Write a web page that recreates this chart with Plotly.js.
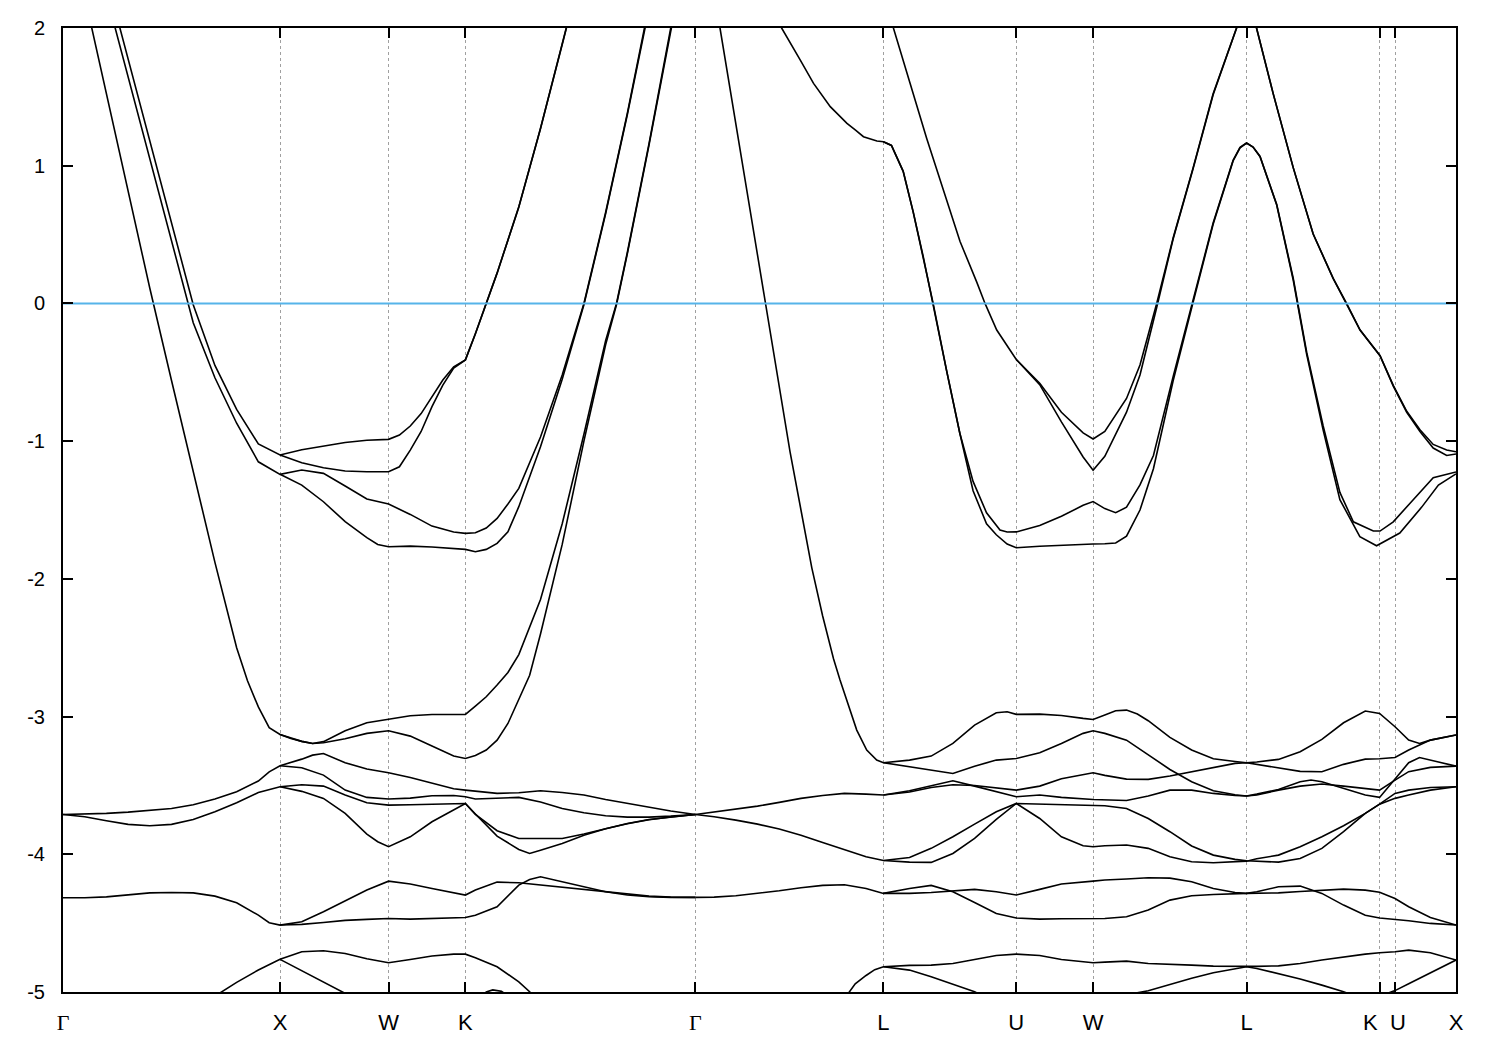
<!DOCTYPE html>
<html><head><meta charset="utf-8">
<script src="https://cdn.plot.ly/plotly-3.0.1.min.js"></script>
<style>html,body{margin:0;padding:0;background:#fff}</style>
</head><body>
<div id="chart" style="width:1500px;height:1050px"></div>
<script>
// k-path positions (2pi/a units) of high-symmetry points and their labels
const kTicks = [0, 1, 1.5, 1.854, 2.914, 3.780, 4.392, 4.746, 5.453, 6.066, 6.137, 6.418];
const kLabels = ['Γ','X','W','K','Γ','L','U','W','L','K','U','X'];
const eTicks = [-5, -4, -3, -2, -1, 0, 1, 2];
const eLabels = ['-5', '-4', '-3', '-2', '-1', '0', '1', '2'];
const fermiLevel = 0;
const energyRange = [-5, 2];

// Bands: [k, E(eV)]
const bandAH = [[0.1,2.23],[0.2,1.52],[0.3,0.82],[0.4,0.11],[0.5,-0.56],[0.6,-1.22],[0.7,-1.88],[0.8,-2.5],[0.85,-2.74],[0.9,-2.93],[0.95,-3.08],[1.0,-3.13],[1.05,-3.16],[1.1,-3.18],[1.15,-3.195],[1.2,-3.182],[1.3,-3.103],[1.4,-3.045],[1.5,-3.021],[1.6,-2.994],[1.7,-2.985],[1.8,-2.982],[1.854,-2.984],[1.9,-2.924],[1.95,-2.856],[2.0,-2.771],[2.05,-2.68],[2.1,-2.55],[2.2,-2.15],[2.3,-1.6],[2.4,-0.95],[2.5,-0.27],[2.55,0.0],[2.6,0.37],[2.7,1.16],[2.8,2.0],[2.9,2.8]];
const bandI = [[1.0,-3.13],[1.1,-3.18],[1.15,-3.195],[1.2,-3.19],[1.3,-3.161],[1.4,-3.122],[1.5,-3.103],[1.6,-3.142],[1.7,-3.214],[1.8,-3.287],[1.854,-3.304],[1.9,-3.282],[1.95,-3.243],[2.0,-3.171],[2.05,-3.05],[2.1,-2.88],[2.15,-2.7],[2.2,-2.4],[2.3,-1.75],[2.4,-1.0],[2.5,-0.3],[2.55,-0.01],[2.6,0.36],[2.7,1.15],[2.8,2.0],[2.9,2.8]];
const bandBF = [[0.2,2.24],[0.3,1.64],[0.4,1.04],[0.5,0.45],[0.6,-0.14],[0.7,-0.54],[0.8,-0.87],[0.9,-1.15],[1.0,-1.241],[1.1,-1.21],[1.2,-1.234],[1.3,-1.326],[1.4,-1.42],[1.5,-1.457],[1.6,-1.532],[1.7,-1.617],[1.8,-1.66],[1.854,-1.67],[1.9,-1.665],[1.95,-1.631],[2.0,-1.561],[2.05,-1.457],[2.1,-1.343],[2.2,-0.97],[2.3,-0.52],[2.4,0.0],[2.5,0.66],[2.6,1.38],[2.7,2.15],[2.8,2.95]];
const bandG = [[1.0,-1.241],[1.1,-1.319],[1.2,-1.44],[1.3,-1.585],[1.4,-1.701],[1.45,-1.75],[1.5,-1.767],[1.6,-1.762],[1.7,-1.769],[1.8,-1.779],[1.854,-1.786],[1.9,-1.803],[1.95,-1.786],[2.0,-1.742],[2.05,-1.658],[2.1,-1.476],[2.2,-1.04],[2.3,-0.55],[2.4,-0.01],[2.5,0.65],[2.6,1.37],[2.7,2.14],[2.8,2.95]];
const bandCD = [[0.2,2.37],[0.3,1.78],[0.4,1.18],[0.5,0.58],[0.6,-0.01],[0.7,-0.45],[0.8,-0.77],[0.9,-1.02],[1.0,-1.10],[1.1,-1.062],[1.2,-1.036],[1.3,-1.01],[1.4,-0.994],[1.5,-0.987],[1.55,-0.956],[1.6,-0.89],[1.65,-0.80],[1.7,-0.68],[1.75,-0.556],[1.8,-0.46],[1.854,-0.41],[1.9,-0.22],[2.0,0.22],[2.1,0.70],[2.2,1.27],[2.3,1.88],[2.4,2.5]];
const bandE = [[1.0,-1.10],[1.1,-1.157],[1.2,-1.193],[1.3,-1.217],[1.4,-1.222],[1.5,-1.222],[1.55,-1.186],[1.6,-1.065],[1.65,-0.93],[1.7,-0.75],[1.75,-0.593],[1.8,-0.47],[1.854,-0.41],[1.9,-0.22],[2.0,0.22],[2.1,0.70],[2.2,1.27],[2.3,1.88],[2.4,2.5]];
const bandU1R1 = [[0,-3.711],[0.1,-3.708],[0.2,-3.703],[0.3,-3.694],[0.4,-3.681],[0.5,-3.667],[0.6,-3.64],[0.7,-3.599],[0.8,-3.546],[0.9,-3.468],[0.95,-3.401],[1.0,-3.357],[1.1,-3.309],[1.15,-3.28],[1.2,-3.268],[1.3,-3.335],[1.4,-3.381],[1.5,-3.408],[1.6,-3.442],[1.7,-3.485],[1.8,-3.524],[1.854,-3.534],[1.9,-3.541],[2.0,-3.558],[2.1,-3.553],[2.2,-3.539],[2.3,-3.551],[2.4,-3.57],[2.5,-3.602],[2.6,-3.631],[2.7,-3.66],[2.8,-3.686],[2.914,-3.711]];
const bandR2 = [[1.0,-3.357],[1.1,-3.372],[1.2,-3.425],[1.3,-3.534],[1.4,-3.587],[1.5,-3.599],[1.6,-3.592],[1.7,-3.575],[1.8,-3.573],[1.854,-3.582],[1.9,-3.599],[2.0,-3.594],[2.1,-3.587],[2.2,-3.621],[2.3,-3.667],[2.4,-3.698],[2.5,-3.72],[2.6,-3.73],[2.7,-3.73],[2.8,-3.723],[2.914,-3.711]];
const bandL1L2 = [[0,-3.711],[0.1,-3.727],[0.2,-3.756],[0.3,-3.783],[0.4,-3.793],[0.5,-3.783],[0.6,-3.747],[0.7,-3.691],[0.8,-3.626],[0.9,-3.551],[1.0,-3.51],[1.1,-3.495],[1.2,-3.505],[1.3,-3.57],[1.4,-3.626],[1.5,-3.643],[1.6,-3.64],[1.7,-3.636],[1.8,-3.633],[1.854,-3.631],[1.9,-3.711],[2.0,-3.829],[2.1,-3.885],[2.2,-3.887],[2.3,-3.885],[2.4,-3.853],[2.5,-3.812],[2.6,-3.776],[2.7,-3.747],[2.8,-3.728],[2.914,-3.711]];
const bandL3 = [[1.0,-3.51],[1.1,-3.543],[1.2,-3.594],[1.3,-3.703],[1.4,-3.853],[1.45,-3.909],[1.5,-3.945],[1.6,-3.873],[1.7,-3.764],[1.8,-3.679],[1.854,-3.631],[1.9,-3.707],[2.0,-3.868],[2.1,-3.965],[2.15,-3.994],[2.2,-3.97],[2.3,-3.921],[2.4,-3.861],[2.5,-3.815],[2.6,-3.778],[2.7,-3.749],[2.8,-3.729],[2.914,-3.711]];
const bandPS1 = [[0,-4.316],[0.1,-4.316],[0.2,-4.309],[0.3,-4.294],[0.4,-4.28],[0.5,-4.277],[0.6,-4.28],[0.7,-4.304],[0.8,-4.352],[0.9,-4.442],[0.95,-4.497],[1.0,-4.514],[1.1,-4.49],[1.2,-4.417],[1.3,-4.34],[1.4,-4.26],[1.5,-4.195],[1.6,-4.216],[1.7,-4.248],[1.8,-4.279],[1.854,-4.296],[1.9,-4.26],[2.0,-4.202],[2.1,-4.207],[2.2,-4.224],[2.3,-4.236],[2.4,-4.253],[2.5,-4.272],[2.6,-4.289],[2.7,-4.304],[2.8,-4.311],[2.914,-4.313]];
const bandS2 = [[1.0,-4.514],[1.1,-4.509],[1.2,-4.495],[1.3,-4.48],[1.4,-4.473],[1.5,-4.466],[1.6,-4.471],[1.7,-4.468],[1.8,-4.463],[1.854,-4.459],[1.9,-4.442],[2.0,-4.381],[2.1,-4.224],[2.15,-4.183],[2.2,-4.163],[2.3,-4.2],[2.4,-4.236],[2.5,-4.272],[2.6,-4.296],[2.7,-4.308],[2.8,-4.313],[2.914,-4.313]];
const bandQT1 = [[0.6,-5.3],[0.7,-5.03],[0.8,-4.93],[0.9,-4.84],[1.0,-4.763],[1.1,-4.708],[1.2,-4.701],[1.3,-4.72],[1.4,-4.759],[1.5,-4.788],[1.6,-4.764],[1.7,-4.739],[1.8,-4.725],[1.854,-4.725],[1.9,-4.751],[2.0,-4.817],[2.1,-4.926],[2.15,-4.998],[2.2,-5.1]];
const bandT2 = [[1.0,-4.763],[1.1,-4.846],[1.2,-4.926],[1.3,-5.01],[1.4,-5.15]];
const bandT3 = [[1.9,-5.08],[1.95,-5.0],[1.98,-4.985],[2.02,-4.995],[2.1,-5.08]];

const bandJX1 = [[2.914,2.75],[3.0,2.26],[3.027,2.0],[3.088,1.42],[3.15,0.84],[3.196,0.41],[3.239,0.0],[3.3,-0.58],[3.35,-1.08],[3.4,-1.5],[3.45,-1.92],[3.5,-2.27],[3.55,-2.58],[3.58,-2.735],[3.626,-2.953],[3.657,-3.098],[3.703,-3.243],[3.749,-3.316],[3.78,-3.335],[3.9,-3.316],[4.0,-3.287],[4.1,-3.195],[4.2,-3.062],[4.3,-2.972],[4.35,-2.965],[4.392,-2.984],[4.5,-2.982],[4.6,-2.992],[4.7,-3.013],[4.746,-3.021],[4.8,-2.989],[4.85,-2.958],[4.9,-2.953],[4.95,-2.982],[5.0,-3.03],[5.1,-3.151],[5.2,-3.243],[5.3,-3.306],[5.4,-3.326],[5.453,-3.335],[5.5,-3.33],[5.6,-3.311],[5.7,-3.255],[5.8,-3.166],[5.9,-3.045],[6.0,-2.96],[6.066,-2.977],[6.137,-3.074],[6.2,-3.171],[6.25,-3.195],[6.3,-3.171],[6.418,-3.134]];
const bandX2 = [[3.78,-3.335],[3.9,-3.364],[4.0,-3.393],[4.1,-3.413],[4.2,-3.36],[4.3,-3.316],[4.392,-3.304],[4.5,-3.263],[4.6,-3.195],[4.7,-3.122],[4.746,-3.103],[4.8,-3.122],[4.9,-3.171],[5.0,-3.28],[5.1,-3.384],[5.2,-3.473],[5.3,-3.539],[5.4,-3.568],[5.453,-3.577],[5.5,-3.57],[5.6,-3.534],[5.7,-3.505],[5.8,-3.49],[5.9,-3.505],[6.0,-3.522],[6.066,-3.534],[6.137,-3.461],[6.2,-3.4],[6.3,-3.369],[6.418,-3.36]];
const bandM1Y1 = [[2.914,-3.711],[3.0,-3.694],[3.1,-3.674],[3.2,-3.65],[3.3,-3.623],[3.4,-3.594],[3.5,-3.573],[3.6,-3.558],[3.7,-3.563],[3.78,-3.57],[3.9,-3.539],[4.0,-3.5],[4.1,-3.466],[4.2,-3.505],[4.3,-3.546],[4.392,-3.582],[4.5,-3.57],[4.6,-3.587],[4.746,-3.602],[4.8,-3.606],[4.9,-3.609],[5.0,-3.577],[5.1,-3.534],[5.2,-3.534],[5.3,-3.558],[5.4,-3.573],[5.453,-3.577],[5.5,-3.563],[5.6,-3.529],[5.7,-3.473],[5.75,-3.461],[5.8,-3.473],[5.9,-3.522],[6.0,-3.57],[6.066,-3.587],[6.137,-3.449],[6.2,-3.335],[6.25,-3.297],[6.3,-3.316],[6.418,-3.36]];
const bandY2 = [[3.78,-3.57],[3.9,-3.548],[4.0,-3.515],[4.1,-3.495],[4.2,-3.5],[4.3,-3.519],[4.392,-3.534],[4.5,-3.505],[4.6,-3.452],[4.746,-3.408],[4.8,-3.427],[4.9,-3.454],[5.0,-3.456],[5.1,-3.432],[5.2,-3.4],[5.3,-3.369],[5.4,-3.34],[5.453,-3.335],[5.5,-3.347],[5.6,-3.374],[5.7,-3.398],[5.8,-3.401],[5.9,-3.347],[6.0,-3.309],[6.066,-3.306],[6.137,-3.297],[6.2,-3.243],[6.3,-3.171],[6.418,-3.134]];
const bandM2Z1 = [[2.914,-3.711],[3.0,-3.727],[3.1,-3.752],[3.2,-3.781],[3.3,-3.817],[3.4,-3.861],[3.5,-3.914],[3.6,-3.965],[3.7,-4.018],[3.78,-4.045],[3.9,-4.057],[4.0,-4.059],[4.1,-3.994],[4.2,-3.885],[4.3,-3.747],[4.392,-3.631],[4.5,-3.636],[4.6,-3.643],[4.746,-3.645],[4.8,-3.648],[4.9,-3.667],[5.0,-3.74],[5.1,-3.836],[5.2,-3.94],[5.3,-4.006],[5.4,-4.037],[5.453,-4.047],[5.5,-4.05],[5.6,-4.057],[5.7,-4.03],[5.8,-3.957],[5.9,-3.836],[6.0,-3.703],[6.066,-3.636],[6.137,-3.558],[6.2,-3.534],[6.3,-3.515],[6.418,-3.51]];
const bandZ2 = [[3.78,-4.045],[3.9,-4.023],[4.0,-3.957],[4.1,-3.873],[4.2,-3.781],[4.3,-3.691],[4.392,-3.631],[4.5,-3.74],[4.6,-3.873],[4.7,-3.938],[4.746,-3.945],[4.8,-3.938],[4.9,-3.933],[5.0,-3.957],[5.1,-4.018],[5.2,-4.054],[5.3,-4.062],[5.4,-4.054],[5.453,-4.05],[5.5,-4.033],[5.6,-4.006],[5.7,-3.945],[5.8,-3.873],[5.9,-3.793],[6.0,-3.703],[6.066,-3.636],[6.137,-3.594],[6.2,-3.57],[6.3,-3.534],[6.418,-3.51]];
const bandNN1 = [[2.914,-4.313],[3.0,-4.311],[3.1,-4.301],[3.2,-4.284],[3.3,-4.265],[3.4,-4.243],[3.5,-4.226],[3.6,-4.221],[3.7,-4.248],[3.78,-4.284],[3.9,-4.248],[4.0,-4.226],[4.1,-4.272],[4.2,-4.35],[4.3,-4.43],[4.392,-4.463],[4.5,-4.471],[4.6,-4.468],[4.746,-4.463],[4.8,-4.466],[4.9,-4.454],[5.0,-4.405],[5.1,-4.333],[5.2,-4.301],[5.3,-4.292],[5.4,-4.287],[5.453,-4.284],[5.5,-4.272],[5.6,-4.236],[5.7,-4.231],[5.8,-4.284],[5.9,-4.369],[6.0,-4.442],[6.066,-4.463],[6.137,-4.473],[6.2,-4.483],[6.3,-4.502],[6.418,-4.514]];
const bandN2 = [[3.78,-4.284],[3.9,-4.284],[4.0,-4.277],[4.1,-4.265],[4.2,-4.255],[4.3,-4.272],[4.392,-4.296],[4.5,-4.255],[4.6,-4.216],[4.746,-4.195],[4.8,-4.187],[4.9,-4.18],[5.0,-4.17],[5.1,-4.173],[5.2,-4.2],[5.3,-4.248],[5.4,-4.277],[5.453,-4.284],[5.5,-4.284],[5.6,-4.28],[5.7,-4.27],[5.8,-4.26],[5.9,-4.253],[6.0,-4.26],[6.066,-4.275],[6.137,-4.321],[6.2,-4.381],[6.3,-4.459],[6.418,-4.514]];
const bandOO1 = [[3.6,-5.05],[3.65,-4.94],[3.7,-4.88],[3.74,-4.838],[3.78,-4.817],[3.9,-4.807],[4.0,-4.805],[4.1,-4.793],[4.2,-4.764],[4.3,-4.735],[4.392,-4.725],[4.5,-4.735],[4.6,-4.764],[4.746,-4.788],[4.8,-4.783],[4.9,-4.776],[5.0,-4.793],[5.1,-4.797],[5.2,-4.805],[5.3,-4.812],[5.453,-4.817],[5.5,-4.814],[5.6,-4.81],[5.7,-4.793],[5.8,-4.768],[5.9,-4.744],[6.0,-4.725],[6.066,-4.715],[6.137,-4.708],[6.2,-4.696],[6.3,-4.715],[6.418,-4.768]];
const bandO2 = [[3.78,-4.817],[3.9,-4.841],[4.0,-4.89],[4.1,-4.943],[4.2,-4.998],[4.3,-5.08]];
const bandO3 = [[4.8,-5.1],[4.9,-5.02],[5.0,-4.991],[5.1,-4.943],[5.2,-4.9],[5.3,-4.86],[5.4,-4.831],[5.453,-4.817],[5.5,-4.829],[5.6,-4.865],[5.7,-4.906],[5.8,-4.95],[5.9,-4.998],[6.0,-5.06]];
const bandO4 = [[6.066,-5.03],[6.137,-4.99],[6.2,-4.94],[6.3,-4.86],[6.418,-4.768]];

const bandK2W1 = [[3.2,2.35],[3.311,2.0],[3.397,1.767],[3.458,1.598],[3.535,1.429],[3.612,1.308],[3.65,1.26],[3.688,1.211],[3.75,1.18],[3.78,1.174],[3.817,1.147],[3.871,0.959],[3.917,0.665],[3.963,0.343],[4.009,0.0],[4.071,-0.488],[4.132,-0.943],[4.193,-1.292],[4.255,-1.52],[4.317,-1.645],[4.35,-1.66],[4.392,-1.659],[4.5,-1.613],[4.6,-1.546],[4.7,-1.466],[4.746,-1.439],[4.8,-1.49],[4.85,-1.52],[4.9,-1.48],[4.962,-1.318],[5.024,-1.104],[5.115,-0.53],[5.207,0.022],[5.299,0.584],[5.391,1.04],[5.423,1.134],[5.453,1.165],[5.483,1.136],[5.515,1.067],[5.592,0.718],[5.668,0.183],[5.73,-0.354],[5.806,-0.89],[5.883,-1.372],[5.945,-1.586],[6.037,-1.653],[6.068,-1.653],[6.129,-1.586],[6.221,-1.425],[6.313,-1.265],[6.418,-1.224]];
const bandW2 = [[3.78,1.174],[3.817,1.147],[3.871,0.959],[3.917,0.665],[3.963,0.343],[4.009,0.0],[4.071,-0.488],[4.132,-0.943],[4.193,-1.36],[4.255,-1.6],[4.3,-1.68],[4.35,-1.747],[4.392,-1.774],[4.5,-1.763],[4.6,-1.755],[4.746,-1.747],[4.8,-1.745],[4.85,-1.74],[4.9,-1.69],[4.962,-1.5],[5.024,-1.2],[5.115,-0.56],[5.207,0.01],[5.299,0.575],[5.391,1.035],[5.423,1.13],[5.453,1.165],[5.483,1.136],[5.515,1.067],[5.592,0.715],[5.668,0.17],[5.73,-0.37],[5.806,-0.92],[5.883,-1.425],[5.975,-1.693],[6.052,-1.76],[6.159,-1.667],[6.26,-1.479],[6.337,-1.319],[6.418,-1.238]];
const bandV1a = [[3.78,2.24],[3.825,2.0],[3.902,1.603],[3.979,1.2],[4.056,0.826],[4.133,0.45],[4.21,0.155],[4.248,0.0],[4.302,-0.193],[4.346,-0.3],[4.392,-0.407],[4.5,-0.58],[4.6,-0.79],[4.7,-0.94],[4.746,-0.984],[4.8,-0.93],[4.9,-0.69],[4.962,-0.447],[5.039,0.0],[5.115,0.477],[5.207,0.986],[5.299,1.522],[5.407,2.0],[5.453,2.3],[5.499,2.0],[5.576,1.522],[5.668,0.986],[5.76,0.504],[5.852,0.182],[5.914,0.0],[5.976,-0.193],[6.068,-0.38],[6.129,-0.595],[6.191,-0.783],[6.252,-0.917],[6.313,-1.024],[6.375,-1.064],[6.418,-1.077]];
const bandV1b = [[4.392,-0.407],[4.5,-0.59],[4.6,-0.86],[4.7,-1.115],[4.746,-1.211],[4.8,-1.11],[4.9,-0.79],[4.962,-0.52],[5.039,-0.03],[5.115,0.47],[5.207,0.98],[5.299,1.515],[5.407,2.0],[5.453,2.3],[5.499,2.0],[5.576,1.522],[5.668,0.986],[5.76,0.504],[5.852,0.182],[5.914,0.0],[5.976,-0.193],[6.068,-0.38],[6.129,-0.6],[6.191,-0.79],[6.252,-0.93],[6.313,-1.05],[6.375,-1.104],[6.418,-1.093]];

const bands = [bandAH, bandI, bandBF, bandG, bandCD, bandE, bandU1R1, bandR2, bandL1L2, bandL3,
  bandPS1, bandS2, bandQT1, bandT2, bandT3, bandJX1, bandX2, bandM1Y1, bandY2, bandM2Z1, bandZ2,
  bandNN1, bandN2, bandOO1, bandO2, bandO3, bandO4, bandK2W1, bandW2, bandV1a, bandV1b];

const traces = bands.map(b => ({
  x: b.map(p => p[0]), y: b.map(p => p[1]),
  type: 'scatter', mode: 'lines',
  line: {color: '#000000', width: 1.6},
  hoverinfo: 'skip', showlegend: false
}));
traces.push({
  x: [kTicks[0], kTicks[kTicks.length - 1]], y: [fermiLevel, fermiLevel],
  type: 'scatter', mode: 'lines',
  line: {color: '#56b4e9', width: 2},
  hoverinfo: 'skip', showlegend: false
});

const fontFam = 'Liberation Sans, Arial, sans-serif';
// the labels at the nearly coincident K|U break are drawn as annotations nudged apart
const closePair = [9, 10];
const tickText = kLabels.map((s, i) => {
  if (closePair.includes(i)) return '';
  if (s === 'Γ') return '<span style="font-family:Liberation Serif">Γ</span>';
  return s;
});
const annotations = closePair.map((i, j) => ({
  x: kTicks[i], xref: 'x', y: 0, yref: 'paper',
  text: kLabels[i], showarrow: false,
  xanchor: 'center', yanchor: 'middle',
  xshift: j === 0 ? -9 : 3, yshift: -30,
  font: {family: fontFam, size: 22, color: '#000'}
}));
const layout = {
  width: 1500, height: 1050,
  margin: {l: 63, r: 44, t: 28, b: 58},
  paper_bgcolor: '#ffffff', plot_bgcolor: '#ffffff',
  showlegend: false,
  font: {family: fontFam, color: '#000000', size: 20},
  annotations: annotations,
  xaxis: {
    range: [kTicks[0], kTicks[kTicks.length - 1]],
    tickmode: 'array', tickvals: kTicks, ticktext: tickText, tickangle: 0,
    ticks: 'inside', ticklen: 10, tickwidth: 2, tickcolor: '#000',
    showline: true, linewidth: 2, linecolor: '#000', mirror: 'ticks',
    showgrid: true, gridcolor: '#a0a0a0', gridwidth: 1, griddash: '3px,3px',
    zeroline: false, ticklabelstandoff: 10,
    tickfont: {family: fontFam, size: 22, color: '#000'}
  },
  yaxis: {
    range: energyRange, tickmode: 'array', tickvals: eTicks, ticktext: eLabels,
    ticks: 'inside', ticklen: 10, tickwidth: 2, tickcolor: '#000',
    showline: true, linewidth: 2, linecolor: '#000', mirror: 'ticks',
    showgrid: false, zeroline: false, ticklabelstandoff: 12,
    tickfont: {family: fontFam, size: 20, color: '#000'}
  }
};
Plotly.newPlot('chart', traces, layout, {staticPlot: true, displayModeBar: false});
</script>
</body></html>
